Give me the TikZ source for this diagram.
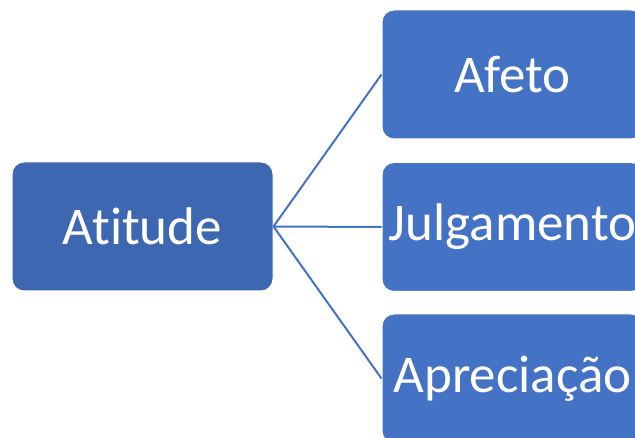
\documentclass[tikz,border=0pt]{standalone}
\usepackage{fontspec}
\setmainfont[Ligatures={NoCommon}]{Carlito}
\usepackage{tikz}
\definecolor{accent}{HTML}{4472C4}
\definecolor{accentdark}{HTML}{3D68B1}
\tikzstyle{box}=[rectangle,rounded corners=12pt,draw=white,line width=1pt,fill=accent,text=white,minimum width=261pt,minimum height=129pt,font=\fontsize{53}{62}\selectfont]
\tikzstyle{root}=[box,fill=accentdark]
\tikzstyle{link}=[draw=accent,line width=2pt]

\begin{document}
\begin{tikzpicture}[x=1pt,y=-1pt]
  \useasboundingbox (0,0) rectangle (635,438);
  \clip (0,0) rectangle (635,438);
      \node[root] at (142.5,226.5) (atitude) {Atitude};
      \node[box] at (512.5,74.5) (afeto) {Afeto};
      \node[box] at (512.5,227) (julgamento) {Julgamento};
      \node[box] at (512.5,378.5) (apreciacao) {Apreciação};
      \draw[link] (atitude.east) -- (afeto.west);
      \draw[link] (atitude.east) -- (julgamento.west);
      \draw[link] (atitude.east) -- (apreciacao.west);
    \end{tikzpicture}
\end{document}
